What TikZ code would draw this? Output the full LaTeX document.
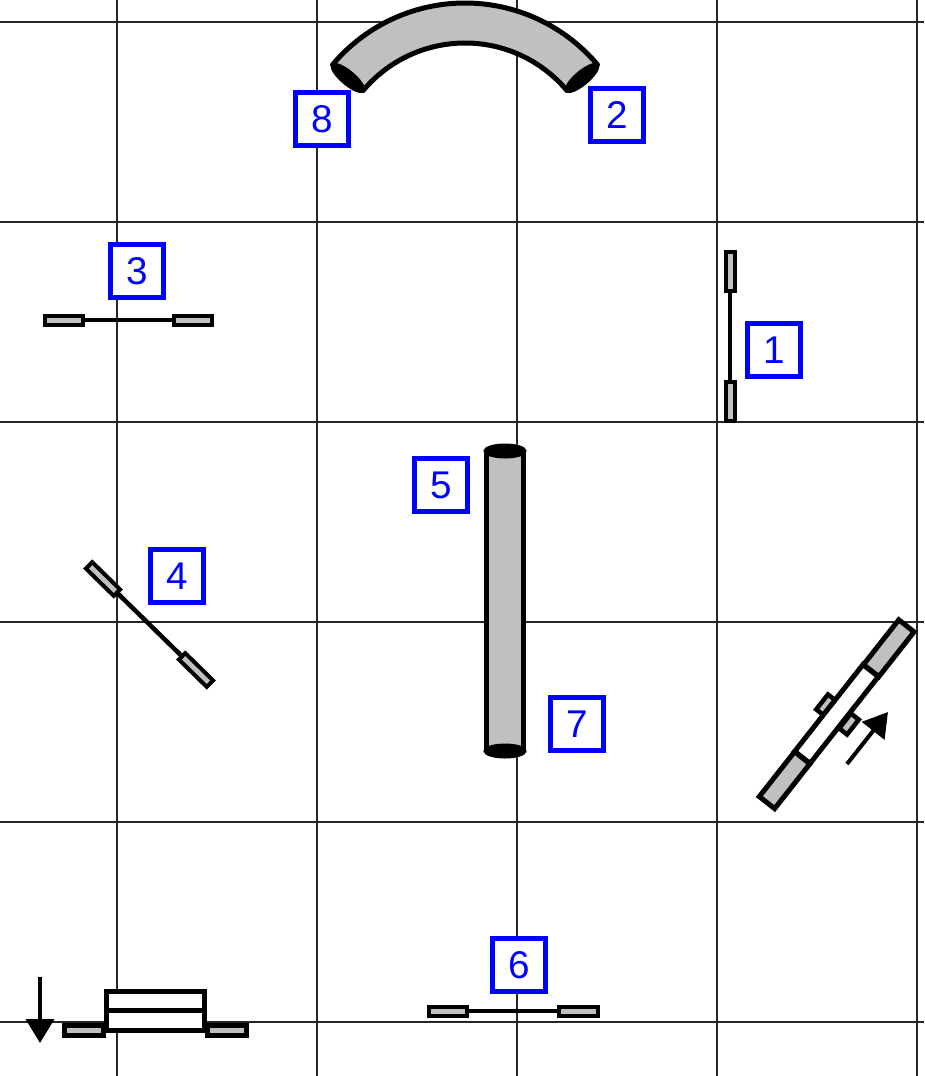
\documentclass[tikz,border=0pt]{standalone}
\usepackage{fontspec}
\setmainfont{Liberation Sans}
\usepackage{xcolor}
\usetikzlibrary{arrows.meta,positioning,shapes}
\definecolor{tagblue}{HTML}{0000FF}
\definecolor{partgray}{HTML}{C0C0C0}
\tikzset{
  gridline/.style={draw=black!85, line width=0.03cm},
  tagbox/.style={
    draw=tagblue, fill=white, line width=0.095cm, rectangle,
    inner sep=0pt, minimum size=1.07cm, text=tagblue,
    font=\fontsize{22}{26}\selectfont
  },
  stubbar/.style={
    draw=black, fill=partgray, line width=0.08cm, rectangle,
    inner sep=0pt, minimum width=0.78cm, minimum height=0.18cm
  },
  lowbar/.style={stubbar, line width=0.1cm, minimum width=0.78cm, minimum height=0.2cm},
  sidetab/.style={
    draw=black, fill=partgray, line width=0.09cm, rectangle,
    inner sep=0pt, minimum width=0.38cm, minimum height=0.2cm
  },
  sliderend/.style={
    draw=black, fill=partgray, line width=0.1cm, rectangle,
    inner sep=0pt, minimum width=1.14cm, minimum height=0.39cm, rotate=51.8
  },
  slidermid/.style={
    draw=black, fill=white, line width=0.1cm, rectangle,
    inner sep=0pt, minimum width=2.21cm, minimum height=0.39cm, rotate=51.8
  },
  capend/.style={
    draw=black, fill=black, line width=0.04cm, ellipse,
    inner sep=0pt, minimum width=0.82cm, minimum height=0.26cm
  },
  tubeshape/.style={draw=black, fill=partgray, line width=0.1cm, line join=round},
  thinrod/.style={draw=black, line width=0.09cm},
  motion/.style={draw=black, line width=0.08cm, -{Triangle[length=0.48cm,width=0.56cm]}}
}
\begin{document}
\begin{tikzpicture}[x=0.02cm,y=-0.02cm]
  \useasboundingbox (0,0) rectangle (924,1076);
  % grid
  \foreach \gx in {117,317,517,717,917}
    \draw[gridline] (\gx,0) -- (\gx,1076);
  \foreach \gy in {22,222,422,622,822,1022}
    \draw[gridline] (0,\gy) -- (924,\gy);

  % curved tube at the top
  \draw[tubeshape]
    (465,176) ++(-140:173) arc[start angle=-140,end angle=-40,radius=173]
    -- (566.9,90.5) arc[start angle=-40,end angle=-140,radius=133] -- cycle;
  \node[capend,rotate=-40] (tubeleft) at (348,78) {};
  \node[capend,rotate=40] (tuberight) at (582,78) {};

  % straight cylinder
  \draw[tubeshape] (486.5,451) -- (523.5,451) -- (523.5,751) -- (486.5,751) -- cycle;
  \node[capend] (cyltop) at (505,451) {};
  \node[capend] (cylbottom) at (505,751) {};

  % thin parts
  \node[stubbar,rotate=90] (onetop) at (730,271.5) {};
  \node[stubbar,rotate=90] (onebottom) at (730,401) {};
  \draw[thinrod] (onetop) -- (onebottom);
  \node[stubbar] (threeleft) at (64,320) {};
  \node[stubbar] (threeright) at (193,320) {};
  \draw[thinrod] (threeleft) -- (threeright);
  \node[stubbar] (sixleft) at (448,1011) {};
  \node[stubbar] (sixright) at (578,1011) {};
  \draw[thinrod] (sixleft) -- (sixright);
  \node[stubbar,rotate=-44.4] (fourtop) at (103,579) {};
  \node[stubbar,rotate=-44.4] (fourbottom) at (196,670) {};
  \draw[thinrod] (fourtop) -- (fourbottom);

  % sliding part on the right
  \node[sidetab,rotate=51.8] (tabupper) at (826,705) {};
  \node[sidetab,rotate=51.8] (tablower) at (849,724) {};
  \node[slidermid] (slidecentre) at (836.5,714) {};
  \node[sliderend] (slidetop) at (888.8,648.2) {};
  \node[sliderend] (slidebottom) at (784.6,780.2) {};
  \coordinate (risefrom) at (847,764);
  \coordinate (riseto) at (888,712);
  \draw[motion] (risefrom) -- (riseto);

  % sliding part bottom left
  \node[lowbar] (lowleft) at (84,1030.5) {};
  \node[lowbar] (lowright) at (227,1030.5) {};
  \node[draw=black,fill=white,line width=0.1cm,inner sep=0pt,minimum width=1.98cm,minimum height=0.78cm] (lowbox) at (155.5,1010.5) {};
  \draw[thinrod] (lowbox.west) -- (lowbox.east);
  \coordinate (dropfrom) at (40,977);
  \coordinate (dropto) at (40,1043);
  \draw[motion] (dropfrom) -- (dropto);

  % number tags
  \node[tagbox] (tagone) at (774,350) {1};
  \node[tagbox] (tagtwo) at (617,115) {2};
  \node[tagbox] (tagthree) at (137,271) {3};
  \node[tagbox] (tagfour) at (177,576) {4};
  \node[tagbox] (tagfive) at (441,485) {5};
  \node[tagbox] (tagsix) at (519,965) {6};
  \node[tagbox] (tagseven) at (577,724) {7};
  \node[tagbox] (tageight) at (322,119) {8};
\end{tikzpicture}
\end{document}
